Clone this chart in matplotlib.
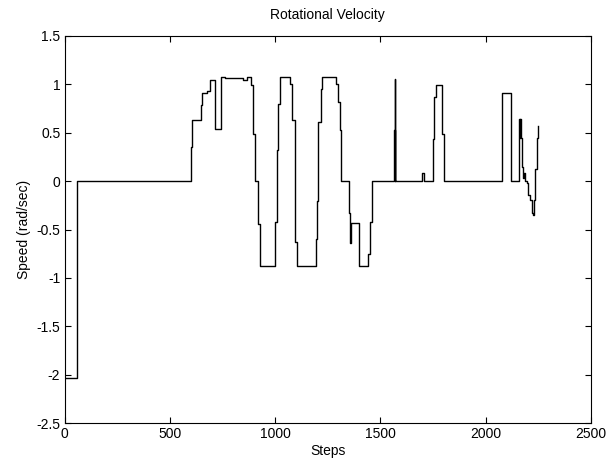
import matplotlib
matplotlib.use('Agg')
import matplotlib.pyplot as plt

# step at which each speed level starts, and the level itself (rad/sec)
step_x = [0, 61, 599, 605, 647, 651, 675, 691, 715, 743, 762, 848, 865,
          886, 897, 905, 920, 928,
          1000, 1010, 1015, 1023, 1071, 1079, 1094, 1105,
          1192, 1198, 1205, 1216, 1221, 1289, 1300, 1308, 1312,
          1352, 1356, 1359, 1398, 1440, 1451, 1459,
          1565, 1567, 1568, 1569, 1570,
          1696, 1708, 1748, 1756, 1763, 1794, 1802,
          2079, 2120,
          2160, 2162, 2163, 2168, 2174, 2179, 2183, 2187, 2195, 2202, 2210,
          2218, 2226, 2231, 2234, 2242, 2247, 2250]
speed = [-2.03, 0.0, 0.35, 0.63, 0.78, 0.91, 0.93, 1.04, 0.54, 1.07, 1.06, 1.04, 1.07,
         0.99, 0.49, 0.0, -0.44, -0.88,
         -0.42, 0.32, 0.80, 1.07, 1.0, 0.63, -0.63, -0.88,
         -0.6, -0.21, 0.61, 0.95, 1.07, 1.0, 0.82, 0.53, 0.0,
         -0.33, -0.64, -0.43, -0.88, -0.75, -0.42, 0.0,
         0.53, 0.0, 0.53, 1.05, 0.0,
         0.08, 0.0, 0.43, 0.87, 0.99, 0.49, 0.0,
         0.91, 0.0,
         0.64, 0.44, 0.64, 0.44, 0.15, 0.03, 0.08, 0.0, -0.02, -0.14, -0.2,
         -0.33, -0.35, -0.2, 0.12, 0.44, 0.57, 0.57]

x_ticks = [0, 500, 1000, 1500, 2000, 2500]
y_ticks = [-2.5, -2, -1.5, -1, -0.5, 0, 0.5, 1, 1.5]

plt.rcParams['font.family'] = ['Liberation Sans', 'DejaVu Sans']
plt.rcParams['font.size'] = 10

fig = plt.figure(figsize=(6.1, 4.66), dpi=100)
ax = fig.add_axes([64.5 / 610, 1 - 423.3 / 466, (591 - 64.5) / 610, (423.3 - 35.7) / 466])
ax.plot(step_x, speed, '-k', linewidth=1.0, drawstyle='steps-post')
ax.set_xlim(0, 2500)
ax.set_ylim(-2.5, 1.5)
ax.set_xticks(x_ticks)
ax.set_yticks(y_ticks)
ax.set_yticklabels([('%g' % v) for v in y_ticks])
ax.tick_params(direction='in', top=True, right=True, length=4, width=0.8, pad=3)
for s in ax.spines.values():
    s.set_linewidth(0.8)
ax.set_title('Rotational Velocity', fontsize=10, pad=12)
ax.set_xlabel('Steps', labelpad=2)
ax.set_ylabel('Speed (rad/sec)', labelpad=4)
fig.savefig('out.png', dpi=100)
